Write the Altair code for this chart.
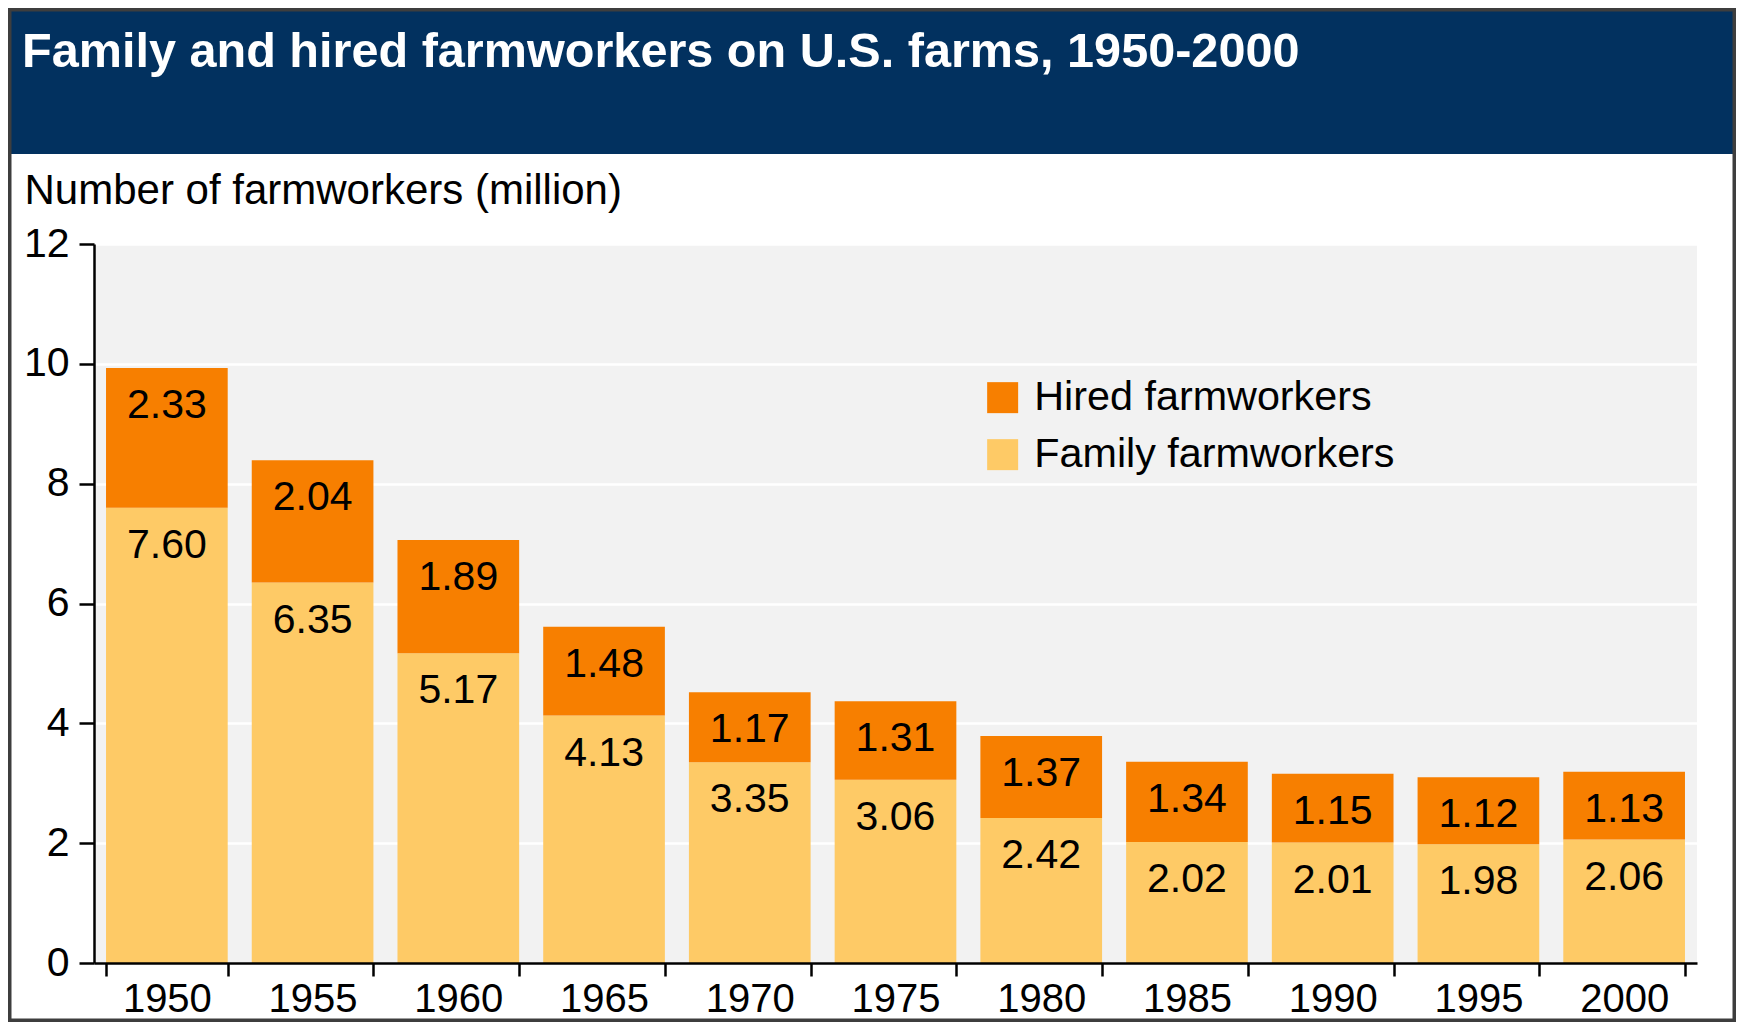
import altair as alt
import pandas as pd

# ---- data ----
years = ["1950", "1955", "1960", "1965", "1970", "1975", "1980", "1985", "1990", "1995", "2000"]
family = [7.60, 6.35, 5.17, 4.13, 3.35, 3.06, 2.42, 2.02, 2.01, 1.98, 2.06]
hired = [2.33, 2.04, 1.89, 1.48, 1.17, 1.31, 1.37, 1.34, 1.15, 1.12, 1.13]
series = ["Hired farmworkers", "Family farmworkers"]
colors = ["#F77F00", "#FECA66"]
y_ticks = [0, 2, 4, 6, 8, 10, 12]

TITLE = "Family and hired farmworkers on U.S. farms, 1950-2000"
Y_TITLE = "Number of farmworkers (million)"

# ---- layout ----
FONT = "Liberation Sans"
W, H = 1603, 719
PAD_L, PAD_T, PAD_R, PAD_B = 86, 236, 39, 59
NAVY = "#02315F"

rows = []
for y, f, h in zip(years, family, hired):
    rows.append({"year": y, "series": "Family farmworkers", "value": f, "top": f, "ord": 0})
    rows.append({"year": y, "series": "Hired farmworkers", "value": h, "top": round(f + h, 2), "ord": 1})
df = pd.DataFrame(rows)

x_enc = alt.X(
    "year:N",
    sort=years,
    scale=alt.Scale(paddingInner=0.165, paddingOuter=0.0825),
    axis=alt.Axis(
        title=None, labelAngle=0, labelFont=FONT, labelFontSize=40, labelColor="black",
        labelPadding=3, tickSize=13, tickWidth=2.5, tickColor="black", tickBand="extent",
        domainColor="black", domainWidth=2.5, grid=False, zindex=1,
    ),
)
y_scale = alt.Scale(domain=[0, 12], nice=False)

bars = alt.Chart(df).mark_bar(strokeWidth=0).encode(
    x=x_enc,
    y=alt.Y(
        "value:Q", stack="zero", scale=y_scale,
        axis=alt.Axis(
            values=y_ticks, format="d", title=Y_TITLE, titleAngle=0, titleAlign="left",
            titleBaseline="alphabetic", titleX=-70, titleY=-41, titleFont=FONT,
            titleFontSize=42, titleFontWeight="normal", titleColor="black",
            labelFont=FONT, labelFontSize=41, labelColor="black", labelPadding=10,
            tickSize=15, tickWidth=2.5, tickColor="black", domainColor="black",
            domainWidth=2.5, grid=True, gridColor="white", gridWidth=2.5, zindex=0,
        ),
    ),
    color=alt.Color(
        "series:N",
        scale=alt.Scale(domain=series, range=colors),
        legend=alt.Legend(
            title=None, orient="none", legendX=888, legendY=133, padding=0,
            symbolType="square", symbolSize=961, symbolStrokeWidth=0,
            labelFont=FONT, labelFontSize=41.3, labelColor="black", labelOffset=11,
            labelLimit=0, rowPadding=15,
        ),
    ),
    order=alt.Order("ord:Q", sort="ascending"),
)

labels = alt.Chart(df).mark_text(
    font=FONT, fontSize=41, color="black", baseline="alphabetic", dy=50
).encode(
    x=alt.X("year:N", sort=years),
    y=alt.Y("top:Q", scale=y_scale),
    text=alt.Text("value:Q", format=".2f"),
)

one = pd.DataFrame({"k": [0]})
band = alt.Chart(one).mark_rect(color=NAVY).encode(
    x=alt.value(-PAD_L), x2=alt.value(W + PAD_R),
    y=alt.value(-PAD_T), y2=alt.value(146 - PAD_T),
)
title = alt.Chart(one).mark_text(
    text=TITLE, font=FONT, fontWeight="bold", fontSize=48.6, color="white",
    align="left", baseline="alphabetic",
).encode(x=alt.value(-72), y=alt.value(-177))
frame = alt.Chart(one).mark_rect(
    fillOpacity=0, stroke="#3E3E3E", strokeWidth=7
).encode(
    x=alt.value(-PAD_L), x2=alt.value(W + PAD_R),
    y=alt.value(-PAD_T), y2=alt.value(H + PAD_B),
)

chart = alt.layer(band, title, bars, labels, frame).properties(
    width=W, height=H,
    padding={"left": PAD_L, "top": PAD_T, "right": PAD_R, "bottom": PAD_B},
    autosize=alt.AutoSizeParams(type="none"),
    background="white",
).configure_view(fill="#F2F2F2", stroke=None)

chart.save("out.html", embed_options={"renderer": "svg", "actions": False})
